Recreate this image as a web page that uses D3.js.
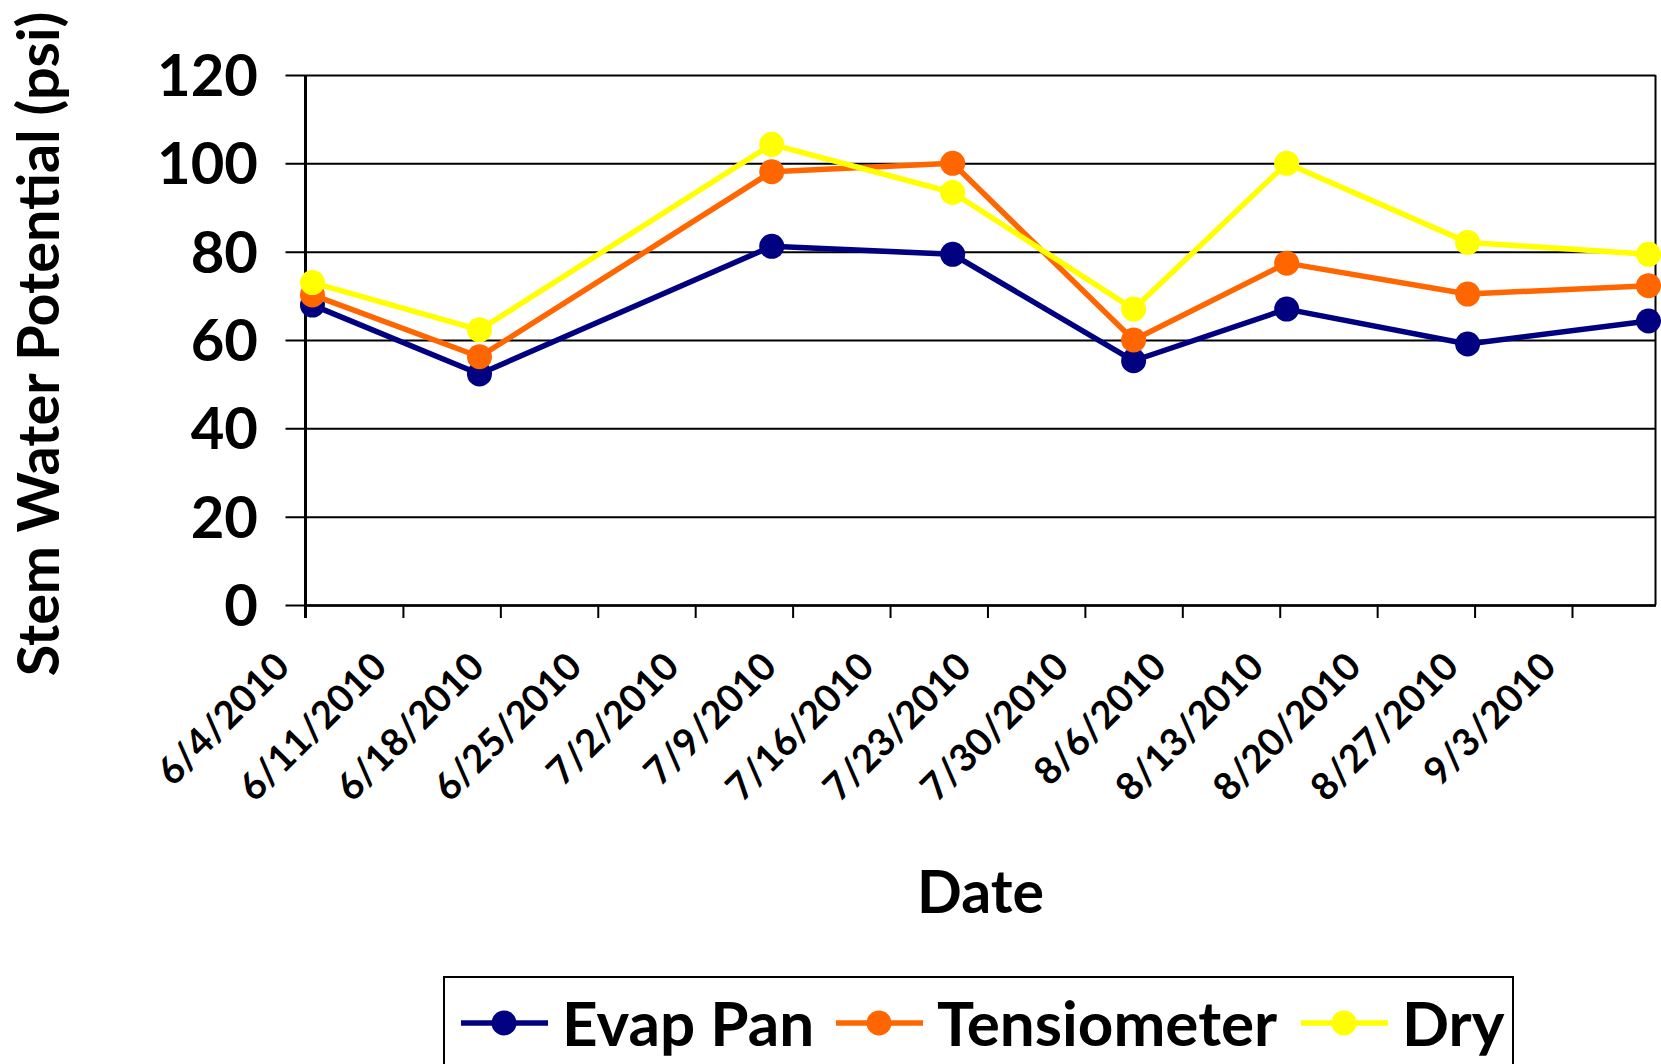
<!DOCTYPE html>
<html>
<head>
<meta charset="utf-8">
<script src="https://cdn.jsdelivr.net/npm/d3@7"></script>
<style>
  html, body { margin: 0; padding: 0; background: #fff; }
  svg { display: block; font-family: Lato, "Open Sans", sans-serif; font-weight: bold; }
</style>
</head>
<body>
<svg id="chart" width="1661" height="1064"></svg>
<script>
// ---- data ----
const sampleDates = ["2010-06-04","2010-06-16","2010-07-07","2010-07-20","2010-08-02","2010-08-13","2010-08-26","2010-09-08"];
const evapPan     = [67.9, 52.3, 81.2, 79.4, 55.3, 67.0, 59.1, 64.3];
const tensiometer = [70.2, 56.2, 98.1, 100.0, 60.0, 77.4, 70.4, 72.3];
const dry         = [73.0, 62.3, 104.3, 93.4, 67.0, 100.0, 82.1, 79.4];
const seriesNames = ["Evap Pan", "Tensiometer", "Dry"];
const seriesColors = ["#000080", "#FF6600", "#FFFF00"];
const yTicks = [0, 20, 40, 60, 80, 100, 120];
const xTickLabels = ["6/4/2010","6/11/2010","6/18/2010","6/25/2010","7/2/2010","7/9/2010","7/16/2010","7/23/2010","7/30/2010","8/6/2010","8/13/2010","8/20/2010","8/27/2010","9/3/2010"];
const xDomain = ["2010-06-04", "2010-09-09"];

(function () {
// ---- helpers ----
const parse = s => { const [yy, m, d] = s.split("-").map(Number); return new Date(yy, m - 1, d); };
const parseLabel = s => { const [m, d, yy] = s.split("/").map(Number); return new Date(yy, m - 1, d); };

const svg = d3.select("#chart");
const pLeft = 305.5, pRight = 1655.5, pTop = 75, pBottom = 605;

const x = d3.scaleTime().domain(xDomain.map(parse)).range([pLeft, pRight]);
const y = d3.scaleLinear().domain([0, 120]).range([pBottom, pTop]);

// gridlines + y ticks (extend outward left)
const yAxis = d3.axisLeft(y).tickValues(yTicks).tickSize(-(pRight - pLeft)).tickFormat("").tickSizeOuter(0);
const gy = svg.append("g").attr("transform", `translate(${pLeft},0)`).call(yAxis);
gy.select(".domain").remove();
gy.selectAll(".tick line").attr("stroke", "#000").attr("stroke-width", 2).attr("x1", -20);

// y tick labels
svg.append("g").selectAll("text").data(yTicks).join("text")
  .attr("x", 258).attr("y", d => y(d)).attr("dy", "0.36em")
  .attr("text-anchor", "end").attr("font-size", 58).attr("fill", "#000")
  .text(d => d);

// right border of plot area
svg.append("line").attr("x1", pRight).attr("x2", pRight).attr("y1", pTop).attr("y2", pBottom)
  .attr("stroke", "#000").attr("stroke-width", 2);

// x axis
const xTickDates = xTickLabels.map(parseLabel);
const xAxis = d3.axisBottom(x).tickValues(xTickDates).tickSize(13).tickSizeOuter(0).tickFormat("");
const gx = svg.append("g").attr("transform", `translate(0,${pBottom})`).call(xAxis);
gx.select(".domain").attr("stroke", "#000").attr("stroke-width", 2.5);
gx.selectAll(".tick line").attr("stroke", "#000").attr("stroke-width", 2);

// x tick labels rotated
svg.append("g").selectAll("text").data(xTickLabels).join("text")
  .attr("transform", d => `translate(${x(parseLabel(d)) - 14},${pBottom + 64}) rotate(-45)`)
  .attr("text-anchor", "end").attr("font-size", 38).attr("fill", "#000")
  .text(d => d);

// y axis line
svg.append("line").attr("x1", pLeft).attr("x2", pLeft).attr("y1", pTop).attr("y2", pBottom + 13)
  .attr("stroke", "#000").attr("stroke-width", 3);

// series (points centered within their day, Excel date axis "between tick marks")
const px = s => x(d3.timeHour.offset(parse(s), 12));
const allSeries = [evapPan, tensiometer, dry];
const line = d3.line().x(d => px(d.date)).y(d => y(d.v));
allSeries.forEach((vals, i) => {
  const pts = vals.map((v, j) => ({ date: sampleDates[j], v }));
  const g = svg.append("g");
  g.append("path").datum(pts).attr("d", line).attr("fill", "none")
    .attr("stroke", seriesColors[i]).attr("stroke-width", 5.5).attr("stroke-linejoin", "round");
  g.selectAll("circle").data(pts).join("circle")
    .attr("cx", d => px(d.date)).attr("cy", d => y(d.v)).attr("r", 12.5)
    .attr("fill", seriesColors[i]);
});

// axis titles
svg.append("text").attr("transform", `translate(59,344) rotate(-90)`)
  .attr("text-anchor", "middle").attr("font-size", 57.5).attr("fill", "#000")
  .text("Stem Water Potential (psi)");
svg.append("text").attr("x", (pLeft + pRight) / 2).attr("y", 913)
  .attr("text-anchor", "middle").attr("font-size", 59).attr("fill", "#000")
  .text("Date");

// legend
const lg = svg.append("g");
lg.append("rect").attr("x", 444).attr("y", 977).attr("width", 1069).attr("height", 110)
  .attr("fill", "#fff").attr("stroke", "#000").attr("stroke-width", 2);
const legendX = [461, 836, 1301];
seriesNames.forEach((name, i) => {
  const lx = legendX[i];
  lg.append("line").attr("x1", lx).attr("x2", lx + 87).attr("y1", 1023).attr("y2", 1023)
    .attr("stroke", seriesColors[i]).attr("stroke-width", 5.5);
  lg.append("circle").attr("cx", lx + 43).attr("cy", 1023).attr("r", 12.5).attr("fill", seriesColors[i]);
  lg.append("text").attr("x", lx + 101).attr("y", 1046).attr("font-size", 62).attr("fill", "#000").text(name);
});
})();
</script>
</body>
</html>
